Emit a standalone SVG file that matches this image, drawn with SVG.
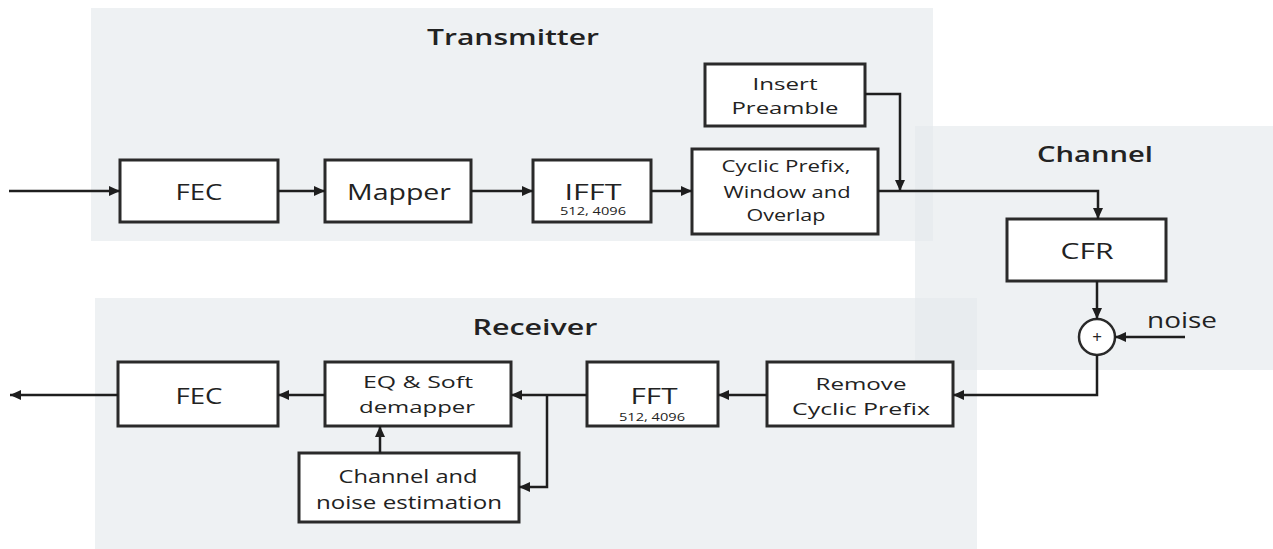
<svg xmlns="http://www.w3.org/2000/svg" width="1273" height="549" viewBox="0 0 1273 549">
<style>
.panel{fill:#e3e9eb;fill-opacity:0.62}
.box{fill:#fff;stroke:#2a2a2a;stroke-width:3}
.t{font-family:"Open Sans","Liberation Sans",sans-serif;fill:#222;text-anchor:middle}
.title{font-size:22px;font-weight:600}
.big{font-size:22px}
.mid{font-size:17px}
.sm{font-size:10px}
.ln{fill:none;stroke:#1e1e1e;stroke-width:2.5}
</style>
<defs>
<marker id="ah" markerUnits="userSpaceOnUse" markerWidth="12" markerHeight="10" refX="11" refY="5" orient="auto">
<path d="M0,0 L11,5 L0,10 Z" fill="#1e1e1e"/>
</marker>
</defs>
<rect width="1273" height="549" fill="#fff"/>
<g id="panels">
<rect class="panel" x="91" y="8" width="842" height="233"/>
<rect class="panel" x="915" y="126" width="358" height="244"/>
<rect class="panel" x="95" y="298" width="882" height="251"/>
</g>
<g id="labels">
<text class="t title" x="513" y="45" textLength="172" lengthAdjust="spacingAndGlyphs">Transmitter</text>
<text class="t title" x="1095" y="162" textLength="116" lengthAdjust="spacingAndGlyphs">Channel</text>
<text class="t title" x="535" y="335" textLength="125" lengthAdjust="spacingAndGlyphs">Receiver</text>
</g>
<g id="fec-tx"><rect class="box" x="120" y="160" width="158" height="62"/><text class="t big" x="199" y="200" textLength="47" lengthAdjust="spacingAndGlyphs">FEC</text></g>
<g id="mapper"><rect class="box" x="325" y="160" width="146" height="62"/><text class="t big" x="399" y="200" textLength="104" lengthAdjust="spacingAndGlyphs">Mapper</text></g>
<g id="ifft"><rect class="box" x="533" y="160" width="118" height="62"/><text class="t big" x="593" y="200" textLength="57" lengthAdjust="spacingAndGlyphs">IFFT</text><text class="t sm" x="593" y="215" textLength="66" lengthAdjust="spacingAndGlyphs">512, 4096</text></g>
<g id="preamble"><rect class="box" x="705" y="64" width="160" height="62"/><text class="t mid" x="785" y="90" textLength="65" lengthAdjust="spacingAndGlyphs">Insert</text><text class="t mid" x="785" y="114" textLength="107" lengthAdjust="spacingAndGlyphs">Preamble</text></g>
<g id="cp"><rect class="box" x="692" y="149" width="186" height="85"/><text class="t" style="font-size:16px" x="786" y="172" textLength="129" lengthAdjust="spacingAndGlyphs">Cyclic Prefix,</text><text class="t" style="font-size:16px" x="787" y="198" textLength="127" lengthAdjust="spacingAndGlyphs">Window and</text><text class="t" style="font-size:16px" x="786" y="221" textLength="79" lengthAdjust="spacingAndGlyphs">Overlap</text></g>
<g id="cfr"><rect class="box" x="1007" y="219" width="159" height="62"/><text class="t" style="font-size:21px" x="1087" y="259" textLength="53" lengthAdjust="spacingAndGlyphs">CFR</text></g>
<g id="sum"><circle cx="1097" cy="337" r="18" fill="#fff" stroke="#2a2a2a" stroke-width="2.5"/><text class="t" style="font-size:17px" x="1097" y="343">+</text></g>
<g id="noise"><text class="t" style="font-size:21px;text-anchor:start" x="1147" y="328" textLength="70" lengthAdjust="spacingAndGlyphs">noise</text></g>
<g id="rcp"><rect class="box" x="767" y="362" width="186" height="64"/><text class="t mid" x="861" y="390" textLength="91" lengthAdjust="spacingAndGlyphs">Remove</text><text class="t mid" x="861" y="415" textLength="138" lengthAdjust="spacingAndGlyphs">Cyclic Prefix</text></g>
<g id="fft"><rect class="box" x="587" y="362" width="131" height="64"/><text class="t big" x="654" y="404" textLength="47" lengthAdjust="spacingAndGlyphs">FFT</text><text class="t sm" x="652" y="421" textLength="66" lengthAdjust="spacingAndGlyphs">512, 4096</text></g>
<g id="eq"><rect class="box" x="325" y="362" width="186" height="64"/><text class="t mid" x="418" y="388" textLength="110" lengthAdjust="spacingAndGlyphs">EQ &amp; Soft</text><text class="t mid" x="417" y="413" textLength="116" lengthAdjust="spacingAndGlyphs">demapper</text></g>
<g id="est"><rect class="box" x="299" y="453" width="220" height="69"/><text class="t" style="font-size:18px" x="408" y="483" textLength="139" lengthAdjust="spacingAndGlyphs">Channel and</text><text class="t" style="font-size:18px" x="409" y="509" textLength="186" lengthAdjust="spacingAndGlyphs">noise estimation</text></g>
<g id="fec-rx"><rect class="box" x="118" y="362" width="160" height="64"/><text class="t big" x="199" y="404" textLength="47" lengthAdjust="spacingAndGlyphs">FEC</text></g>
<g id="connectors">
<path class="ln" d="M9 191 H120" marker-end="url(#ah)"/>
<path class="ln" d="M278 191 H325" marker-end="url(#ah)"/>
<path class="ln" d="M471 191 H533" marker-end="url(#ah)"/>
<path class="ln" d="M651 191 H692" marker-end="url(#ah)"/>
<path class="ln" d="M878 191 H1098 V219" marker-end="url(#ah)"/>
<path class="ln" d="M865 94 H900 V191" marker-end="url(#ah)"/>
<path class="ln" d="M1097 281 V319" marker-end="url(#ah)"/>
<path class="ln" d="M1185 337 H1115" marker-end="url(#ah)"/>
<path class="ln" d="M1097 355 V395 H953" marker-end="url(#ah)"/>
<path class="ln" d="M767 395 H718" marker-end="url(#ah)"/>
<path class="ln" d="M587 395 H511" marker-end="url(#ah)"/>
<path class="ln" d="M547 395 V487 H519" marker-end="url(#ah)"/>
<path class="ln" d="M380 453 V426" marker-end="url(#ah)"/>
<path class="ln" d="M325 395 H278" marker-end="url(#ah)"/>
<path class="ln" d="M118 395 H10" marker-end="url(#ah)"/>
</g>
</svg>
